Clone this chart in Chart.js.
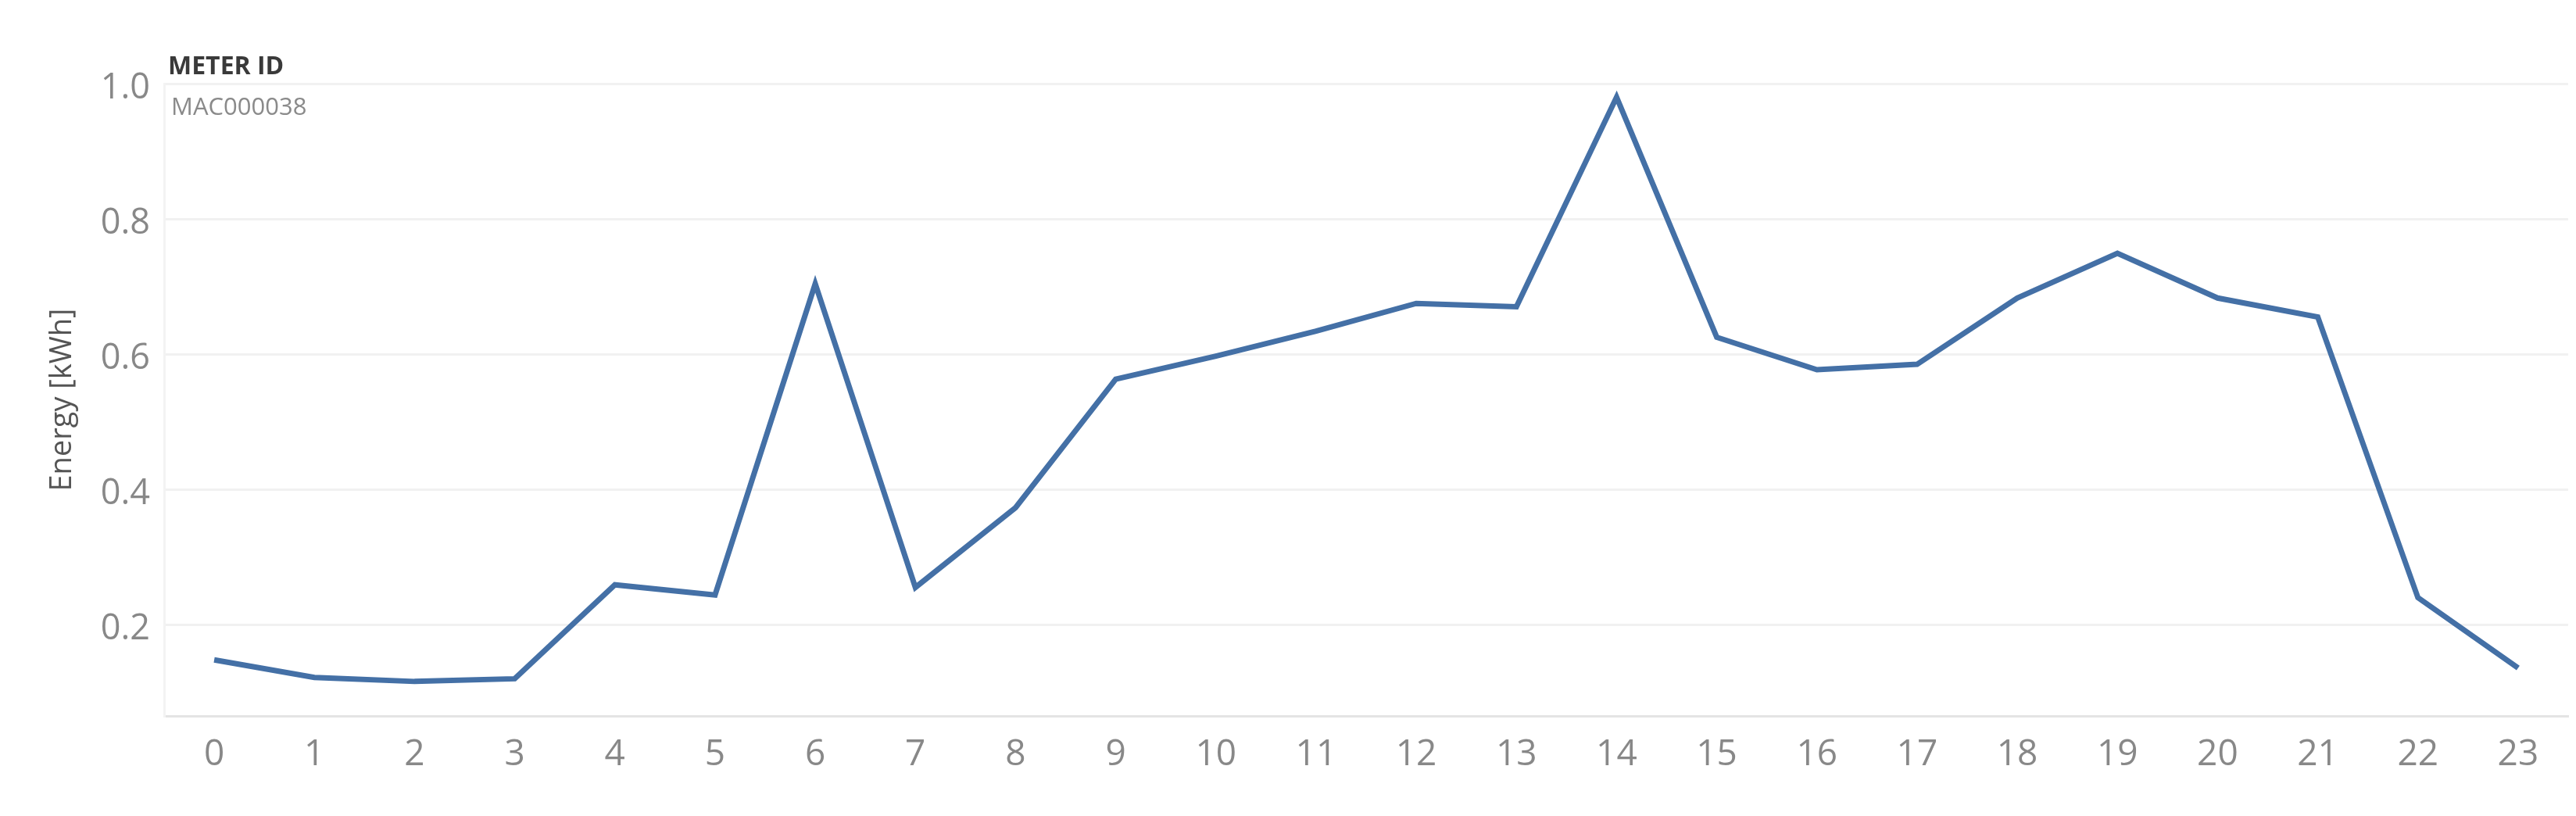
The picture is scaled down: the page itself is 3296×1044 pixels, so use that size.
<!DOCTYPE html>
<html>
<head>
<meta charset="utf-8">
<title>Energy by hour - MAC000038</title>
<script src="https://cdn.jsdelivr.net/npm/chart.js@4.4.1/dist/chart.umd.min.js"></script>
<style>
    html, body { margin: 0; padding: 0; background: #fff; }
    #chartWrap { position: relative; width: 3296px; height: 1044px; }
</style>
</head>
<body>
<div id="chartWrap"><canvas id="energyChart"></canvas></div>
<script>
// values
const hours = ["0", "1", "2", "3", "4", "5", "6", "7", "8", "9", "10", "11",
               "12", "13", "14", "15", "16", "17", "18", "19", "20", "21", "22", "23"];
const energyKwh = [0.148, 0.122, 0.116, 0.120, 0.259, 0.244, 0.704, 0.255, 0.373, 0.563, 0.597, 0.634,
                   0.675, 0.670, 0.980, 0.625, 0.577, 0.585, 0.683, 0.749, 0.683, 0.655, 0.240, 0.136];
const yTicks = [0.2, 0.4, 0.6, 0.8, 1.0];
const yTitle = "Energy [kWh]";
const legendTitle = "METER ID";
const meterId = "MAC000038";

const FONT = "'Open Sans', 'DejaVu Sans', sans-serif";

// small Tableau-like legend in the top left corner of the plot
const meterLegend = {
    id: "meterLegend",
    afterDraw(chart) {
        const ctx = chart.ctx;
        const left = chart.chartArea.left;
        ctx.save();
        ctx.textAlign = "left";
        ctx.textBaseline = "middle";
        ctx.fillStyle = "#3a3a3a";
        ctx.font = "bold 32px " + FONT;
        ctx.fillText(legendTitle, left + 5, 86);
        ctx.fillStyle = "#8a8a8a";
        ctx.font = "31px " + FONT;
        ctx.fillText(meterId, left + 9, 138);
        ctx.restore();
    }
};

document.addEventListener("DOMContentLoaded", () => {
    const ctx = document.getElementById("energyChart").getContext("2d");

    new Chart(ctx, {
        type: "line",
        data: {
            labels: hours,
            datasets: [{
                label: meterId,
                data: energyKwh,
                borderColor: "#4470a6",
                borderWidth: 7,
                tension: 0,
                pointRadius: 0,
                fill: false
            }]
        },
        options: {
            responsive: true,
            maintainAspectRatio: false,
            animation: false,
            layout: {
                padding: { top: 107, right: 10, bottom: 0, left: 0 }
            },
            plugins: {
                legend: { display: false },
                tooltip: { enabled: false }
            },
            scales: {
                x: {
                    offset: true,
                    grid: { display: false },
                    border: { display: true, color: "#e4e4e4", width: 3 },
                    ticks: {
                        color: "#888",
                        font: { family: FONT, size: 46 },
                        padding: 14,
                        maxRotation: 0,
                        autoSkip: false
                    },
                    afterFit: (scale) => { scale.height = 128; }
                },
                y: {
                    min: 0.065,
                    max: 1.0,
                    afterBuildTicks: (scale) => {
                        scale.ticks = yTicks.map(v => ({ value: v }));
                    },
                    grid: { color: "#f1f1f1", lineWidth: 3, drawTicks: false },
                    border: { display: true, color: "#f3f3f3", width: 3 },
                    ticks: {
                        color: "#888",
                        font: { family: FONT, size: 45 },
                        padding: 18,
                        labelOffset: 6,
                        callback: (value) => Number(value).toFixed(1)
                    },
                    title: {
                        display: true,
                        text: yTitle,
                        color: "#555",
                        font: { family: FONT, size: 38 },
                        padding: { top: 57, bottom: 0 }
                    },
                    afterFit: (scale) => { scale.width = 210; }
                }
            }
        },
        plugins: [meterLegend]
    });
});
</script>
</body>
</html>
